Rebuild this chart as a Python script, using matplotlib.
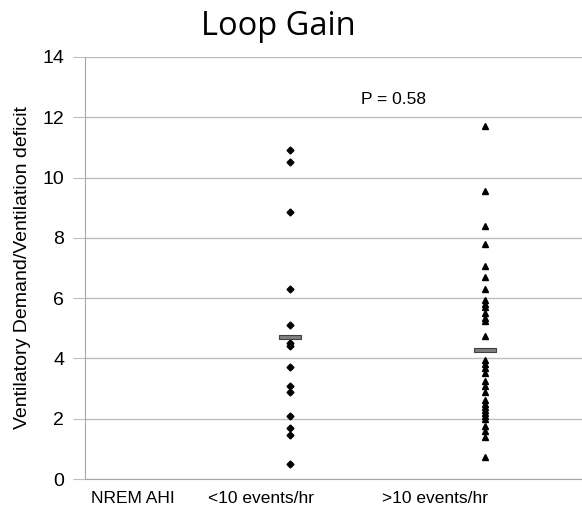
import numpy as np
import matplotlib.pyplot as plt
from matplotlib.patches import Rectangle

# values
group_names = ['<10 events/hr', '>10 events/hr']
low_ahi = [10.9, 10.5, 8.85, 6.3, 5.1, 4.5, 4.4, 3.7, 3.1, 2.9, 2.1, 1.7, 1.45, 0.5]
high_ahi = [11.7, 9.55, 8.4, 7.8, 7.05, 6.7, 6.3, 5.95, 5.8, 5.7, 5.5, 5.35, 5.25, 4.75,
            3.95, 3.82, 3.67, 3.5, 3.25, 3.1, 2.9, 2.62, 2.5, 2.4, 2.3, 2.2, 2.1,
            2.0, 1.75, 1.58, 1.4, 0.72]
group_centres = [4.7, 4.27]
p_text = 'P = 0.58'
y_ticks = [0, 2, 4, 6, 8, 10, 12, 14]

fig = plt.figure(figsize=(5.82, 5.17), dpi=100)
ax = fig.add_axes([0.146, 0.0735, 0.854, 0.8163])

xpos = [1, 2]
ax.plot([xpos[0]] * len(low_ahi), low_ahi, linestyle='none', marker='D',
        markersize=3.5, color='black', zorder=3)
ax.plot([xpos[1]] * len(high_ahi), high_ahi, linestyle='none', marker='^',
        markersize=4.8, color='black', zorder=3)

# mean bars
for x, m in zip(xpos, group_centres):
    ax.add_patch(Rectangle((x - 0.056, m - 0.065), 0.112, 0.13, facecolor='#808080',
                           edgecolor='#404040', linewidth=0.8, zorder=4))

ax.set_xlim(-0.051, 2.497)
ax.set_ylim(0, 14)
ax.set_yticks(y_ticks)
ax.set_yticklabels([str(t) for t in y_ticks], fontsize=14, family='Liberation Sans')
ax.set_xticks([])
ax.grid(axis='y', color='#BEBEBE', linewidth=1.0)
ax.set_axisbelow(True)
for s in ['top', 'right']:
    ax.spines[s].set_visible(False)
ax.spines['left'].set_color('#A6A6A6')
ax.spines['bottom'].set_color('#A6A6A6')
ax.tick_params(axis='y', length=9, color='#BEBEBE', pad=6)

ax.set_ylabel('Ventilatory Demand/Ventilation deficit', fontsize=14,
              family='Liberation Sans', labelpad=8)

# category labels under the axis
trans = ax.get_xaxis_transform()
ax.text(0.195, -0.047, 'NREM AHI', transform=trans, ha='center', va='center',
        fontsize=12.5, family='Liberation Sans')
ax.text(0.851, -0.047, group_names[0], transform=trans, ha='center', va='center',
        fontsize=12.5, family='Liberation Sans')
ax.text(1.744, -0.047, group_names[1], transform=trans, ha='center', va='center',
        fontsize=12.5, family='Liberation Sans')

ax.text(1.53, 12.6, p_text, ha='center', va='center', fontsize=12.5, family='Liberation Sans')

fig.text(0.478, 0.948, 'Loop Gain', ha='center', va='center', fontsize=23.5, family='Open Sans')

fig.savefig('out.png', dpi=100)
